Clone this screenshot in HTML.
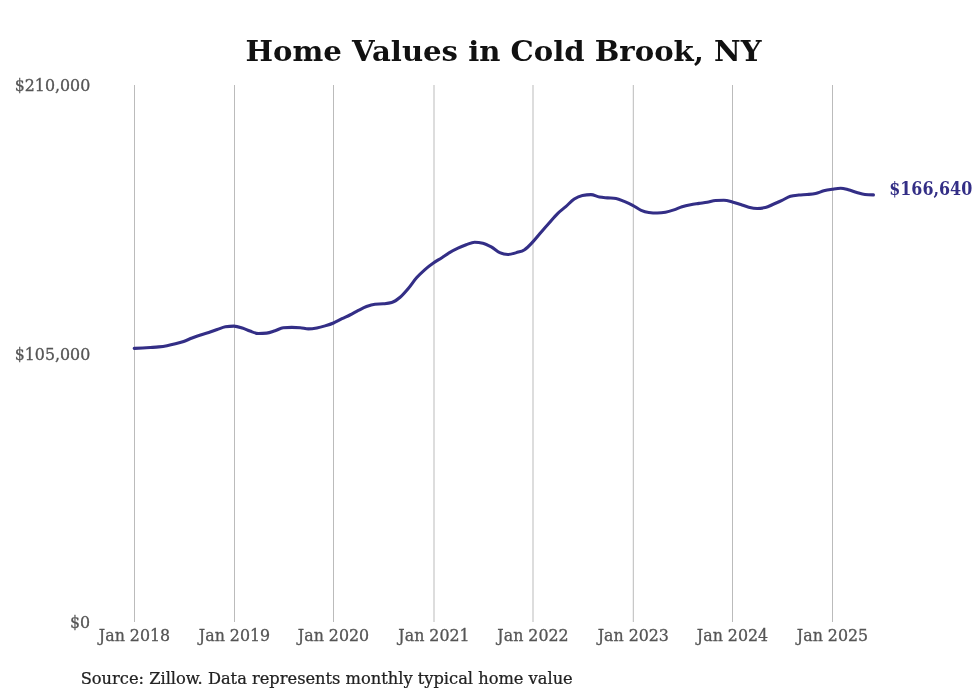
<!DOCTYPE html>
<html><head><meta charset="utf-8"><title>Home Values in Cold Brook, NY</title>
<style>
html,body{margin:0;padding:0;background:#fff;width:980px;height:699px;overflow:hidden}
svg{position:absolute;left:0;top:0;display:block}
.t{font-family:"DejaVu Serif","Liberation Serif",serif;font-weight:bold;font-size:29.15px;fill:#111}
.ax{font-family:"DejaVu Serif Condensed","DejaVu Serif","Liberation Serif",serif;font-stretch:condensed;font-size:17.6px;fill:#555555;stroke:#555555;stroke-width:0.3px}
.src{font-family:"DejaVu Serif Condensed","DejaVu Serif","Liberation Serif",serif;font-stretch:condensed;font-size:18.08px;fill:#222222;stroke:#222222;stroke-width:0.25px}
.val{font-family:"DejaVu Serif Condensed","DejaVu Serif","Liberation Serif",serif;font-stretch:condensed;font-weight:bold;font-size:17.7px;fill:#332e86}
</style></head>
<body>
<svg width="980" height="699" viewBox="0 0 980 699">
<text class="t" transform="translate(503.5,61.2) scale(1,0.98)" text-anchor="middle">Home Values in Cold Brook, NY</text>
<g><rect x="134.00" y="85" width="1" height="537" fill="#bbbbbb"/><rect x="234.00" y="85" width="1" height="537" fill="#bbbbbb"/><rect x="333.00" y="85" width="1" height="537" fill="#bbbbbb"/><rect x="433.50" y="85" width="1" height="537" fill="#bbbbbb"/><rect x="532.50" y="85" width="1" height="537" fill="#bbbbbb"/><rect x="632.80" y="85" width="1" height="537" fill="#bbbbbb"/><rect x="732.00" y="85" width="1" height="537" fill="#bbbbbb"/><rect x="832.00" y="85" width="1" height="537" fill="#bbbbbb"/></g>
<g class="ax"><text transform="translate(90.20,91.00) scale(1,0.93)" text-anchor="end">$210,000</text><text transform="translate(90.20,359.50) scale(1,0.93)" text-anchor="end">$105,000</text><text transform="translate(90.20,628.00) scale(1,0.93)" text-anchor="end">$0</text><text transform="translate(134.50,640.60) scale(1,0.93)" text-anchor="middle">Jan 2018</text><text transform="translate(234.50,640.60) scale(1,0.93)" text-anchor="middle">Jan 2019</text><text transform="translate(333.50,640.60) scale(1,0.93)" text-anchor="middle">Jan 2020</text><text transform="translate(434.00,640.60) scale(1,0.93)" text-anchor="middle">Jan 2021</text><text transform="translate(533.00,640.60) scale(1,0.93)" text-anchor="middle">Jan 2022</text><text transform="translate(633.30,640.60) scale(1,0.93)" text-anchor="middle">Jan 2023</text><text transform="translate(732.50,640.60) scale(1,0.93)" text-anchor="middle">Jan 2024</text><text transform="translate(832.50,640.60) scale(1,0.93)" text-anchor="middle">Jan 2025</text></g>
<path d="M134.23,348.39C137.05,348.26,139.87,348.13,142.69,347.98C145.24,347.84,147.78,347.68,150.33,347.52C153.15,347.33,155.97,347.21,158.79,346.91C161.52,346.61,164.25,346.23,166.98,345.73C169.80,345.21,172.63,344.54,175.45,343.81C178.18,343.11,180.91,342.39,183.64,341.45C186.46,340.47,189.28,339.08,192.10,338.00C194.92,336.92,197.74,335.87,200.56,334.95C203.29,334.07,206.02,333.47,208.75,332.58C211.57,331.67,214.39,330.51,217.21,329.53C219.94,328.58,222.67,327.23,225.40,326.79C228.22,326.34,231.04,326.11,233.86,326.11C236.68,326.11,239.50,327.12,242.33,328.01C244.87,328.81,247.42,330.17,249.97,331.05C252.79,332.02,255.61,333.47,258.43,333.47C261.16,333.47,263.89,333.36,266.62,333.13C269.44,332.90,272.26,331.63,275.08,330.73C277.81,329.85,280.54,328.04,283.27,327.79C286.09,327.54,288.91,327.41,291.73,327.41C294.56,327.41,297.38,327.50,300.20,327.69C302.93,327.88,305.66,328.85,308.39,328.85C311.21,328.85,314.03,328.43,316.85,327.92C319.58,327.42,322.31,326.67,325.04,325.87C327.86,325.04,330.68,324.19,333.50,323.00C336.32,321.81,339.14,320.10,341.96,318.72C344.60,317.44,347.24,316.33,349.88,315.00C352.70,313.58,355.52,311.87,358.34,310.43C361.07,309.04,363.80,307.51,366.53,306.48C369.35,305.42,372.17,304.48,374.99,304.20C377.72,303.94,380.45,304.07,383.18,303.81C386.00,303.53,388.82,303.39,391.64,302.57C394.46,301.75,397.29,299.68,400.11,297.28C402.84,294.95,405.57,291.73,408.30,288.51C411.12,285.17,413.94,280.75,416.76,277.56C419.49,274.46,422.22,271.95,424.95,269.55C427.77,267.08,430.59,264.96,433.41,262.99C436.23,261.03,439.05,259.58,441.87,257.75C444.42,256.10,446.97,254.14,449.51,252.60C452.34,250.89,455.16,249.43,457.98,248.12C460.71,246.85,463.44,245.79,466.17,244.81C468.99,243.81,471.81,242.21,474.63,242.21C477.36,242.21,480.09,242.52,482.82,243.14C485.64,243.77,488.46,245.36,491.28,246.95C494.10,248.54,496.92,251.43,499.74,252.69C502.47,253.92,505.20,254.54,507.93,254.54C510.75,254.54,513.57,253.46,516.39,252.63C519.12,251.82,521.85,251.45,524.58,249.68C527.40,247.85,530.22,244.65,533.05,241.65C535.87,238.65,538.69,234.95,541.51,231.68C544.06,228.72,546.60,225.80,549.15,222.93C551.97,219.75,554.79,216.34,557.61,213.59C560.34,210.92,563.07,208.98,565.80,206.60C568.62,204.13,571.44,200.89,574.26,199.03C576.99,197.24,579.72,196.09,582.45,195.52C585.27,194.93,588.10,194.63,590.92,194.63C593.74,194.63,596.56,196.52,599.38,197.06C602.11,197.59,604.84,197.64,607.57,197.88C610.39,198.12,613.21,198.08,616.03,198.49C618.76,198.89,621.49,200.32,624.22,201.43C627.04,202.58,629.86,203.82,632.68,205.31C635.50,206.79,638.32,209.13,641.14,210.35C643.69,211.44,646.24,212.16,648.79,212.50C651.61,212.88,654.43,213.07,657.25,213.07C659.98,213.07,662.71,212.82,665.44,212.32C668.26,211.80,671.08,210.84,673.90,209.88C676.63,208.96,679.36,207.56,682.09,206.70C684.91,205.81,687.73,205.23,690.55,204.68C693.37,204.13,696.19,203.82,699.01,203.40C701.74,202.99,704.47,202.68,707.20,202.22C710.02,201.73,712.85,200.68,715.67,200.53C718.40,200.38,721.13,200.31,723.86,200.31C726.68,200.31,729.50,201.21,732.32,201.92C735.14,202.63,737.96,203.66,740.78,204.56C743.42,205.40,746.06,206.49,748.70,207.14C751.52,207.82,754.34,208.45,757.16,208.45C759.89,208.45,762.62,208.15,765.35,207.55C768.17,206.94,770.99,205.24,773.81,204.03C776.54,202.85,779.27,201.66,782.00,200.38C784.82,199.06,787.64,197.02,790.46,196.22C793.28,195.41,796.10,195.30,798.92,195.01C801.65,194.73,804.38,194.76,807.11,194.51C809.93,194.26,812.75,194.13,815.58,193.50C818.31,192.89,821.04,191.55,823.76,190.84C826.59,190.11,829.41,189.67,832.23,189.23C835.05,188.79,837.87,188.20,840.69,188.20C843.24,188.20,845.78,189.09,848.33,189.74C851.15,190.46,853.97,191.61,856.79,192.40C859.52,193.17,862.25,194.14,864.98,194.43C867.80,194.73,870.63,194.80,873.45,194.88" fill="none" stroke="#332e86" stroke-width="3.1" stroke-linecap="round" stroke-linejoin="round"/>
<text class="val" transform="translate(889.2,194.8) scale(1,1.04)">$166,640</text>
<text class="src" transform="translate(80.7,683.5) scale(1,0.91)">Source: Zillow. Data represents monthly typical home value</text>
</svg>
</body></html>
